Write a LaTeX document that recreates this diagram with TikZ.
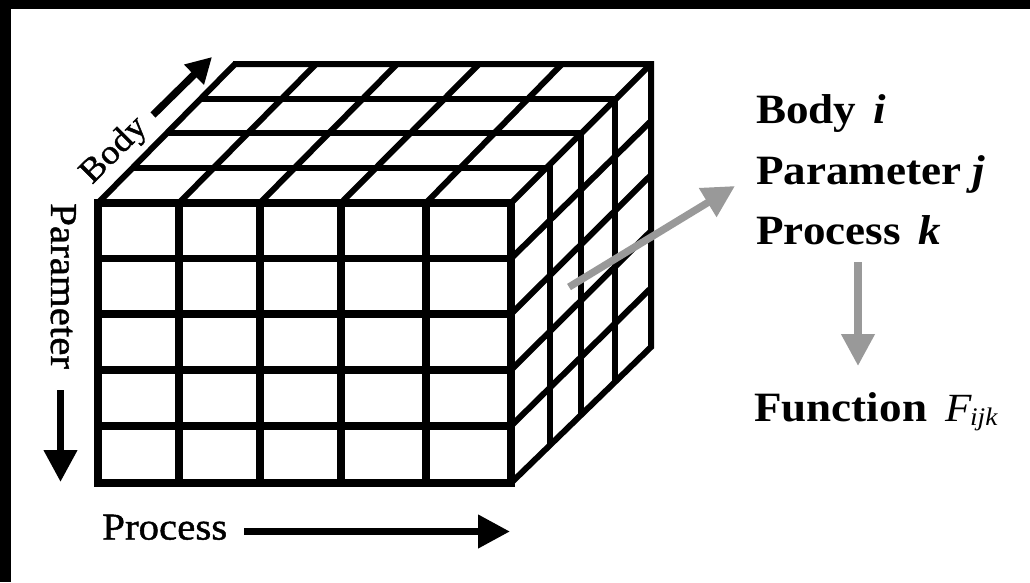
\documentclass[tikz,border=0pt]{standalone}
\usepackage{fontspec}
\setmainfont[FakeStretch=1.08]{Liberation Serif}
\newfontfamily\axisfont[FakeStretch=1.08,FakeBold=1.2]{Liberation Serif}
\usetikzlibrary{arrows.meta}
\definecolor{arrowgrey}{HTML}{999999}
\tikzset{
  front/.style={line width=5.5pt,line cap=rect},
  side/.style={line width=4.5pt,line cap=butt,line join=miter},
  blackarrow/.style={line width=5.5pt,-{Triangle[length=24pt,width=24pt]}},
  bodyarrow/.style={line width=5.5pt,-{Triangle[length=19pt,width=20pt]}},
  greyarrow/.style={line width=5.5pt,draw=arrowgrey,-{Triangle[length=24pt,width=24pt,fill=arrowgrey]}},
  biglabel/.style={anchor=base west,inner sep=0pt,font=\fontsize{31.3}{31.3}\selectfont\bfseries},
  axislabel/.style={anchor=base west,inner sep=0pt,font=\fontsize{28.4}{28.4}\axisfont},
  bodylabel/.style={axislabel,font=\fontsize{25.5}{25.5}\axisfont},
}
\begin{document}
\begin{tikzpicture}[x=0.75pt,y=-0.75pt]
\useasboundingbox (0,0) rectangle (1030,582);
\fill[black] (0,0) rectangle (1030,9);
\fill[black] (0,0) rectangle (11,582);
% top face
\foreach \xf/\xb in {98/235,179/316,260/397,341/479,426/562,511/651}
  \draw[side] (\xf,203) -- (\xb,64);
\draw[side] (233,64) -- (651,64) -- (651,347) -- (511,483);
\draw[side] (201,99) -- (618,99);
\draw[side] (166,133) -- (584,133);
\draw[side] (132,168) -- (552,168);
% right face
\foreach \yf/\yb in {258.5/121,314/175,370/231,426/288}
  \draw[side] (511,\yf) -- (651,\yb);
\draw[side] (615,97) -- (615,382);
\draw[side] (581,131) -- (581,415);
\draw[side] (549.5,166) -- (549.5,446);
% front face
\foreach \y in {203,258.5,314,370,426,483}
  \draw[front] (98,\y) -- (511,\y);
\foreach \x in {98,179,260,341,426,511}
  \draw[front] (\x,203) -- (\x,483);
% axis labels
\node[bodylabel,rotate=45] (body) at (92,185) {Body};
\coordinate (bodytail) at (153,115);
\coordinate (bodytip) at (212,57);
\draw[bodyarrow] (bodytail) -- (bodytip);
\node[axislabel,rotate=-90] (parameter) at (51,203) {Parameter};
\coordinate (paramtail) at (60.5,390);
\coordinate (paramtip) at (60.5,482);
\draw[blackarrow] (paramtail) -- (paramtip);
\node[axislabel] (process) at (102,539.5) {Process};
\coordinate (proctail) at (244,531.5);
\coordinate (proctip) at (510,531.5);
\draw[blackarrow] (proctail) -- (proctip);
% right labels
\node[biglabel] (bi) at (756,123) {Body\hspace{4pt} \textit{i}};
\node[biglabel] (pj) at (756,184) {Parameter \textit{j}};
\node[biglabel] (pk) at (756,244) {Process\hspace{5pt} \textit{k}};
\node[biglabel] (fn) at (754,421) {Function\hspace{5pt} \mdseries\itshape\fontsize{30}{30}\selectfont F\hspace{-1pt}\raisebox{-3.5pt}{\fontsize{19}{19}\selectfont ijk}};
\coordinate (cubepoint) at (569,287);
\coordinate (greytip) at (735,186);
\draw[greyarrow] (cubepoint) -- (greytip);
\coordinate (flowtop) at (858,262);
\coordinate (flowtip) at (858,366);
\draw[greyarrow] (flowtop) -- (flowtip);
\end{tikzpicture}
\end{document}
